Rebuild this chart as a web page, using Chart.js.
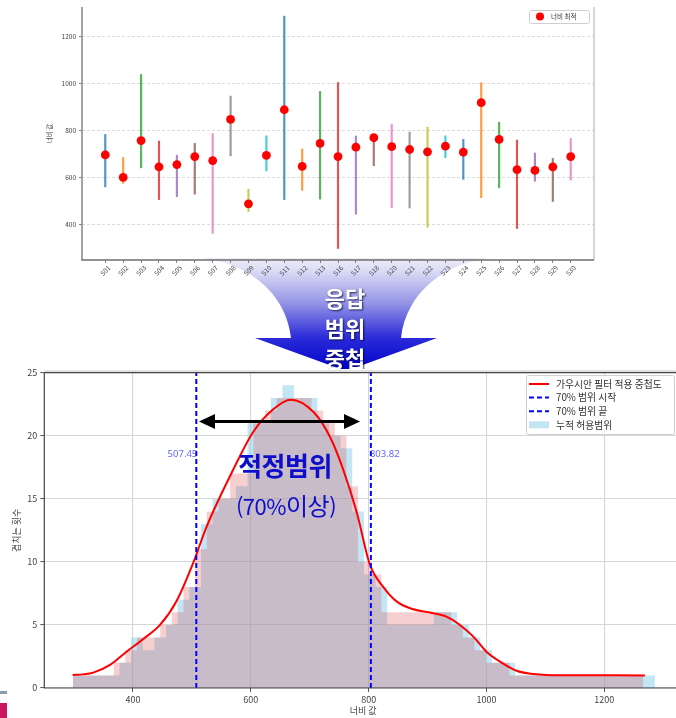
<!DOCTYPE html>
<html lang="ko">
<head>
<meta charset="utf-8">
<title>응답 범위 중첩</title>
<script src="https://cdn.jsdelivr.net/npm/chart.js@4.4.1/dist/chart.umd.min.js"></script>
<style>
  html, body { margin: 0; padding: 0; width: 676px; height: 718px; overflow: hidden; background: #fff;
    font-family: "Noto Sans CJK KR", "Noto Sans", sans-serif; }
  .layer { position: absolute; }
  #widthChart { left: 0; top: 0; z-index: 2; }
  #funnel { left: 0; top: 0; z-index: 1; }
  #funnelText { left: 295px; top: 282px; width: 100px; z-index: 2; text-align: center; color: #fff;
    font-weight: 700; font-size: 22px; line-height: 30px; text-shadow: 1px 1px 2px rgba(0,0,40,0.75); }
  #sheet { left: 0; top: 369px; width: 676px; height: 349px; background: #fff; z-index: 3; }
  #sheetBand { left: 44px; top: 370px; width: 640px; height: 2px; background: #e2e2e2; z-index: 3; }
  #overlapChart { left: 0; top: 360px; z-index: 4; }
  #rangeArrow { left: 0; top: 0; z-index: 5; pointer-events: none; }
  #rangeTitle { left: 205px; top: 449px; width: 160px; text-align: center; z-index: 5; color: #0d0dca;
    font-weight: 700; font-size: 26px; line-height: 32px; letter-spacing: -0.5px; }
  #rangeSub { left: 205px; top: 489px; width: 162px; text-align: center; z-index: 5; color: #0d0dca;
    font-size: 22px; line-height: 32px; letter-spacing: -0.5px; }
  #markA { left: 0; top: 691px; width: 7px; height: 3px; background: #8a9bb0; z-index: 6; }
  #markB { left: 0; top: 703px; width: 7px; height: 15px; background: #c8175d; z-index: 6; }
</style>
</head>
<body>
<canvas id="widthChart" class="layer" width="676" height="292"></canvas>

<svg id="funnel" class="layer" width="676" height="380">
  <defs>
    <linearGradient id="funnelFill" x1="0" y1="258" x2="0" y2="371" gradientUnits="userSpaceOnUse">
      <stop offset="0" stop-color="#ededf9"/>
      <stop offset="0.11" stop-color="#dcdcf5"/>
      <stop offset="0.4" stop-color="#9494e6"/>
      <stop offset="0.7" stop-color="#2c2cd9"/>
      <stop offset="1" stop-color="#0000c8"/>
    </linearGradient>
  </defs>
  <path d="M 200 258 C 246 262, 286 292, 291 338 L 255 338 L 346 371 L 437 338 L 401 338 C 406 292, 446 262, 492 258 Z"
        fill="url(#funnelFill)"/>
</svg>
<div id="funnelText" class="layer">응답<br>범위<br>중첩</div>

<div id="sheet" class="layer"></div>
<div id="sheetBand" class="layer"></div>
<canvas id="overlapChart" class="layer" width="690" height="358"></canvas>

<svg id="rangeArrow" class="layer" width="676" height="718">
  <line x1="212" y1="421.5" x2="347" y2="421.5" stroke="#000" stroke-width="3"/>
  <polygon points="199,421.5 215,414 215,429" fill="#000"/>
  <polygon points="360,421.5 344,414 344,429" fill="#000"/>
</svg>
<div id="rangeTitle" class="layer">적정범위</div>
<div id="rangeSub" class="layer">(70%<span style="font-size:24px">이상</span>)</div>
<div id="markA" class="layer"></div>
<div id="markB" class="layer"></div>

<script>
// ---- response width per subject ----
const names   = ['S01','S02','S03','S04','S05','S06','S07','S08','S09','S10','S11','S12','S13','S16',
                 'S17','S18','S20','S21','S22','S23','S24','S25','S26','S27','S28','S29','S30'];
const optimal = [696, 600, 757, 645, 655, 689, 672, 847, 488, 694, 888, 647, 745, 689,
                 729, 769, 731, 719, 709, 733, 708, 918, 762, 633, 630, 645, 689];
const lows    = [560, 575, 641, 506, 518, 529, 362, 692, 455, 628, 506, 545, 508, 298,
                 444, 650, 472, 470, 389, 684, 592, 514, 556, 383, 584, 498, 589];
const highs   = [783, 685, 1038, 755, 695, 745, 787, 946, 550, 777, 1286, 721, 966, 1004,
                 776, 780, 827, 793, 814, 777, 762, 1003, 835, 759, 704, 681, 766];
const widthTicks = [400, 600, 800, 1000, 1200];

// ---- overlap of the accepted ranges ----
const binEdges = [298.0, 317.8, 337.5, 357.3, 377.0, 396.8, 416.6, 436.3, 456.1, 475.8,
                  495.6, 515.4, 535.1, 554.9, 574.6, 594.4, 614.2, 633.9, 653.7, 673.4,
                  693.2, 713.0, 732.7, 752.5, 772.2, 792.0, 811.8, 831.5, 851.3, 871.0,
                  890.8, 910.6, 930.3, 950.1, 969.8, 989.6, 1009.4, 1029.1, 1048.9, 1068.6,
                  1088.4, 1108.2, 1127.9, 1147.7, 1167.4, 1187.2, 1207.0, 1226.7, 1246.5, 1266.2, 1286.0];
const coverage = [1, 1, 1, 1, 2, 4, 3, 4, 5, 7, 8, 13, 15, 15, 16, 21, 21, 23, 24, 23,
                  23, 21, 20, 19, 14, 9, 8, 5, 5, 5, 5, 6, 6, 5, 4, 3, 2, 2, 1, 1,
                  1, 1, 1, 1, 1, 1, 1, 1, 1, 1];
const overlapCount = [1, 1, 1, 1, 2, 3, 4, 4, 5, 6, 8, 11, 14, 15, 17, 17, 21, 22, 23, 23,
                      23, 22, 21, 20, 16, 10, 9, 6, 6, 6, 6, 6, 6, 5, 4, 3, 2, 2, 1, 1,
                      1, 1, 1, 1, 1, 1, 1, 1, 1, 1];
const smoothX = [297.6, 315, 332.6, 361, 389, 417.5, 445.8, 474, 502, 525, 570, 604, 638, 668,
                 706, 734.5, 757, 780, 802, 825, 848, 876, 904, 932, 955, 977.7, 1000, 1023,
                 1051, 1080, 1110, 1269];
const smoothY = [1.03, 1.08, 1.22, 1.83, 2.88, 3.89, 5.0, 6.9, 9.9, 12.8, 17.3, 20.3, 22.1, 22.86,
                 21.9, 19.9, 17.3, 13.9, 9.8, 8.0, 6.85, 6.24, 5.98, 5.66, 5.0, 4.07, 2.88, 2.09,
                 1.37, 1.11, 1.02, 1.0];
const rangeStart = 507.45;
const rangeEnd = 803.82;
const countTicks = [0, 5, 10, 15, 20, 25];

const tab10 = ['#1f77b4','#ff7f0e','#2ca02c','#d62728','#9467bd','#8c564b','#e377c2','#7f7f7f','#bcbd22','#17becf'];
const FONT = '"Noto Sans CJK KR", "Noto Sans", sans-serif';
Chart.defaults.font.family = FONT;

// axis frame (matplotlib-like spines)
const frame = {
  id: 'frame',
  afterDatasetsDraw(chart, args, opts) {
    const {ctx, chartArea: a} = chart;
    ctx.save();
    for (const side of opts.sides) {
      ctx.beginPath();
      ctx.strokeStyle = side.color;
      ctx.lineWidth = side.width;
      if (side.at === 'left')   { ctx.moveTo(a.left, a.top);  ctx.lineTo(a.left, a.bottom); }
      if (side.at === 'right')  { ctx.moveTo(a.right, a.top); ctx.lineTo(a.right, a.bottom); }
      if (side.at === 'top')    { ctx.moveTo(a.left, a.top);  ctx.lineTo(a.right, a.top); }
      if (side.at === 'bottom') { ctx.moveTo(a.left - side.width / 2, a.bottom); ctx.lineTo(a.right, a.bottom); }
      ctx.stroke();
    }
    ctx.restore();
  }
};

// legend drawn inside the plot area
const boxLegend = {
  id: 'boxLegend',
  afterDraw(chart, args, o) {
    const {ctx} = chart;
    ctx.save();
    ctx.fillStyle = 'rgba(255,255,255,0.85)';
    ctx.strokeStyle = '#cfcfcf';
    ctx.lineWidth = 1;
    ctx.beginPath();
    ctx.roundRect(o.x + 0.5, o.y + 0.5, o.w, o.h, 2);
    ctx.fill();
    ctx.stroke();
    ctx.font = o.fontSize + 'px ' + FONT;
    ctx.textBaseline = 'middle';
    ctx.textAlign = 'left';
    o.items.forEach((it, i) => {
      const ds = chart.data.datasets[it.dataset];
      const cy = o.y + o.firstRow + i * o.rowH;
      if (it.kind === 'dot') {
        ctx.fillStyle = ds.backgroundColor;
        ctx.beginPath();
        ctx.arc(o.handleX + o.handleW / 2, cy, o.dotR, 0, Math.PI * 2);
        ctx.fill();
      } else if (it.kind === 'line') {
        ctx.strokeStyle = ds.borderColor;
        ctx.lineWidth = ds.borderWidth;
        ctx.setLineDash(ds.borderDash || []);
        ctx.beginPath();
        ctx.moveTo(o.handleX, cy);
        ctx.lineTo(o.handleX + o.handleW, cy);
        ctx.stroke();
        ctx.setLineDash([]);
      } else {
        ctx.fillStyle = ds.backgroundColor;
        ctx.fillRect(o.handleX, cy - 3.5, o.handleW, 7);
      }
      ctx.fillStyle = '#333';
      ctx.fillText(ds.label, o.textX, cy);
    });
    ctx.restore();
  }
};

// values of the two range bounds next to their dashed lines
const rangeLabels = {
  id: 'rangeLabels',
  afterDatasetsDraw(chart, args, o) {
    const {ctx, scales: {x, y}} = chart;
    const py = y.getPixelForValue(o.at);
    ctx.save();
    ctx.font = '9.5px "Noto Sans", sans-serif';
    ctx.fillStyle = 'rgba(30,30,255,0.72)';
    ctx.textBaseline = 'middle';
    ctx.textAlign = 'right';
    ctx.fillText(rangeStart.toFixed(2), x.getPixelForValue(rangeStart) + 1, py);
    ctx.textAlign = 'left';
    ctx.fillText(rangeEnd.toFixed(2), x.getPixelForValue(rangeEnd) - 1, py);
    ctx.restore();
  }
};

// ---------- upper chart: optimal width and accepted range per subject ----------
new Chart(document.getElementById('widthChart'), {
  type: 'scatter',
  data: {
    datasets: [
      {
        type: 'scatter', label: '너비 최적',
        data: names.map((n, i) => ({x: i, y: optimal[i]})),
        backgroundColor: '#ff0000', borderWidth: 0, pointRadius: 4.4, pointHoverRadius: 4.4, order: 1
      },
      {
        type: 'bar', label: '허용 범위',
        data: names.map((n, i) => ({x: i, y: [lows[i], highs[i]]})),
        backgroundColor: names.map((n, i) => tab10[i % 10] + 'c8'),
        borderWidth: 0, barThickness: 1.5, order: 2
      }
    ]
  },
  options: {
    responsive: false, animation: false, devicePixelRatio: 1,
    layout: {padding: {left: 0, right: 82, top: 7, bottom: 0}},
    plugins: {
      legend: {display: false}, tooltip: {enabled: false},
      frame: {sides: [
        {at: 'left', color: '#8c8c8c', width: 1.6},
        {at: 'right', color: '#c4c4c4', width: 1.4},
        {at: 'bottom', color: '#6e6e6e', width: 1.3}
      ]},
      boxLegend: {x: 529, y: 10, w: 60, h: 13, firstRow: 6.5, rowH: 12, fontSize: 6.5,
                  handleX: 536, handleW: 8, dotR: 4, textX: 551,
                  items: [{dataset: 0, kind: 'dot'}]}
    },
    scales: {
      x: {
        type: 'linear', min: -1.3, max: names.length - 1 + 1.3, offset: false,
        afterBuildTicks: s => { s.ticks = names.map((n, i) => ({value: i})); },
        afterFit: s => { s.height = 32; },
        grid: {display: true, drawOnChartArea: false, offset: false, tickLength: 3, tickColor: '#666', tickWidth: 0.8},
        border: {display: false},
        ticks: {autoSkip: false, minRotation: 45, maxRotation: 45, padding: 1, labelOffset: 4,
                color: '#444', font: {size: 6.5}, callback: v => names[v] ?? ''}
      },
      y: {
        type: 'linear', min: 249, max: 1325,
        afterBuildTicks: s => { s.ticks = widthTicks.map(v => ({value: v})); },
        afterFit: s => { s.width = 82; },
        grid: {color: '#d2d2d2', lineWidth: 0.8, tickLength: 3, tickColor: '#666', tickWidth: 0.8},
        border: {display: false, dash: [3, 2]},
        ticks: {padding: 3, color: '#444', font: {size: 6.5}, callback: v => String(v)},
        title: {display: true, text: '너비 값', color: '#444', font: {size: 6.5}, padding: {top: 46, bottom: 0}}
      }
    }
  },
  plugins: [frame, boxLegend]
});

// ---------- lower chart: overlap of the accepted ranges ----------
new Chart(document.getElementById('overlapChart'), {
  type: 'line',
  data: {
    datasets: [
      {
        label: '가우시안 필터 적용 중첩도',
        data: smoothX.map((x, i) => ({x, y: smoothY[i]})),
        borderColor: '#ff0000', borderWidth: 2, pointRadius: 0, fill: false,
        cubicInterpolationMode: 'monotone', order: 2
      },
      {
        label: '70% 범위 시작',
        data: [{x: rangeStart, y: 0}, {x: rangeStart, y: 25}],
        borderColor: '#0000ff', borderWidth: 2, borderDash: [5, 3], pointRadius: 0, fill: false, order: 1
      },
      {
        label: '70% 범위 끝',
        data: [{x: rangeEnd, y: 0}, {x: rangeEnd, y: 25}],
        borderColor: '#0000ff', borderWidth: 2, borderDash: [5, 3], pointRadius: 0, fill: false, order: 1
      },
      {
        label: '누적 허용범위',
        data: binEdges.map((e, k) => ({x: e, y: coverage[Math.min(k, coverage.length - 1)]})),
        stepped: 'before', fill: 'origin', backgroundColor: 'rgba(135,206,235,0.5)',
        borderColor: 'rgba(0,0,0,0)', borderWidth: 1, pointRadius: 0, order: 4
      },
      {
        label: '중첩 횟수',
        data: overlapCount.map((c, i) => ({x: binEdges[i], y: c})),
        stepped: 'middle', fill: 'origin', backgroundColor: 'rgba(214,39,40,0.22)',
        borderColor: 'rgba(0,0,0,0)', borderWidth: 1, pointRadius: 0, order: 3
      }
    ]
  },
  options: {
    responsive: false, animation: false, devicePixelRatio: 1,
    layout: {padding: {left: 0, right: 8, top: 12.7, bottom: 0}},
    plugins: {
      legend: {display: false}, tooltip: {enabled: false},
      frame: {sides: [
        {at: 'left', color: '#444', width: 1.2},
        {at: 'top', color: '#444', width: 1.2},
        {at: 'right', color: '#444', width: 1.2},
        {at: 'bottom', color: '#444', width: 1.2}
      ]},
      rangeLabels: {at: 18.5},
      boxLegend: {x: 526, y: 15, w: 148, h: 59, firstRow: 9, rowH: 13.6, fontSize: 9.8,
                  handleX: 529, handleW: 20, dotR: 0, textX: 556,
                  items: [{dataset: 0, kind: 'line'}, {dataset: 1, kind: 'line'},
                          {dataset: 2, kind: 'line'}, {dataset: 3, kind: 'rect'}]}
    },
    scales: {
      x: {
        type: 'linear', min: 249.4, max: 1332,
        afterBuildTicks: s => { s.ticks = widthTicks.map(v => ({value: v})); },
        afterFit: s => { s.height = 30; },
        grid: {color: '#d6d6d6', lineWidth: 1.1, tickLength: 4, tickColor: '#555', tickWidth: 1},
        border: {display: false},
        ticks: {padding: 2, color: '#444', font: {size: 9}, callback: v => String(v)},
        title: {display: true, text: '너비 값', color: '#444', font: {size: 9}, padding: {top: 0, bottom: 1.6}}
      },
      y: {
        type: 'linear', min: 0, max: 25,
        afterBuildTicks: s => { s.ticks = countTicks.map(v => ({value: v})); },
        afterFit: s => { s.width = 44.3; },
        grid: {color: '#d6d6d6', lineWidth: 1.1, tickLength: 4, tickColor: '#555', tickWidth: 1},
        border: {display: false},
        ticks: {padding: 3, color: '#444', font: {size: 9}},
        title: {display: true, text: '겹치는 횟수', color: '#444', font: {size: 9}, padding: {top: 11.6, bottom: 0}}
      }
    }
  },
  plugins: [frame, boxLegend, rangeLabels]
});
</script>
</body>
</html>
